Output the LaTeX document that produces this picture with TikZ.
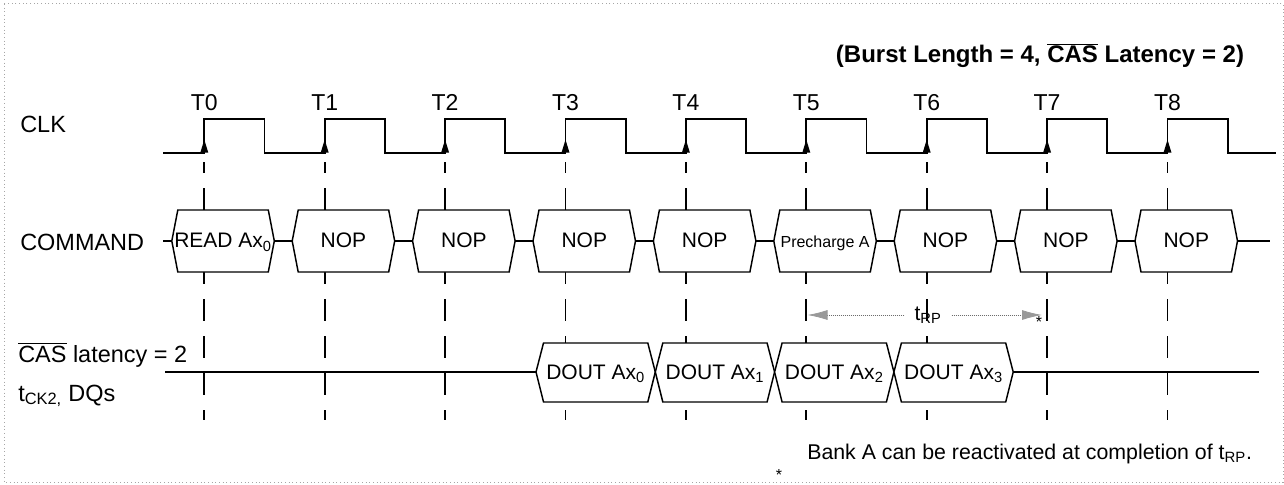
\documentclass[tikz,border=0pt]{standalone}
\usepackage{fontspec}
\setmainfont{Liberation Sans}
\usetikzlibrary{arrows.meta}
\newcommand\ovl[1]{$\overline{\hbox{#1}}$}
\begin{document}
\begin{tikzpicture}[x=0.75pt,y=-0.75pt,
  wave/.style={line width=1.3pt},
  tickline/.style={line width=1.4pt, dash pattern=on 16.5pt off 11.25pt, dash phase=8.25pt},
  sigline/.style={line width=1.1pt},
  hexbox/.style={line width=1.1pt, fill=white},
  lbl/.style={anchor=base west, inner sep=0pt, font=\fontsize{17.6}{20}\selectfont},
  tlbl/.style={anchor=base, inner sep=0pt, font=\fontsize{17.25}{20}\selectfont},
  boxtxt/.style={anchor=base, inner sep=0pt, font=\fontsize{15.75}{18}\selectfont},
  smalltxt/.style={anchor=base, inner sep=0pt, font=\fontsize{12}{14}\selectfont},
  trpline/.style={gray!85!black, line width=0.6pt, dash pattern=on 0.75pt off 0.75pt,
    -{Latex[length=15pt,width=7.5pt,fill=gray!80,color=gray!80]}},
]
\useasboundingbox (0,0) rectangle (1284,485);
\draw[gray!70, dotted, line width=0.75pt] (4,4) rectangle (1283,482);

% clock edge coordinates
\foreach \k in {0,...,8} {
  \coordinate (T\k) at ({204.3+120.4*\k},152.7);
}

% dashed timing lines
\foreach \k in {0,...,8} \draw[tickline] (T\k) ++(0,9.3) -- ++(0,258);

% clock waveform
\draw[wave] (163,152.7) \foreach \k in {0,...,8} { -- (T\k) -- ++(0,-33.4) -- ++(60.2,0) -- ++(0,33.4) } -- (1276,152.7);
\foreach \k in {0,...,8} \fill (T\k) ++(-4,0) -- ++(4,-13) -- ++(4,13) -- cycle;
\foreach \k in {0,...,8} \node[tlbl] (lblT\k) at ({204.3+120.4*\k},110) {T\k};

% command row
\draw[sigline] (163,241) -- (1270,241);
\foreach \k in {0,...,8} {
  \pgfmathsetmacro\L{204.3+120.4*\k-32.5}
  \pgfmathsetmacro\R{204.3+120.4*\k+70}
  \draw[hexbox] (\L,241) -- (\L+6,210) -- (\R-6,210) -- (\R,241) -- (\R-6,272) -- (\L+6,272) -- cycle;
}
\node[boxtxt] (cmd0) at (223.05,247.5) {READ Ax\textsubscript{0}};
\foreach \k in {1,2,3,4,6,7,8} \node[boxtxt] (cmd\k) at ({223.05+120.4*\k},247.5) {NOP};
\node[smalltxt] (cmd5) at (825.05,247.5) {Precharge A};

% data row
\draw[sigline] (165,372) -- (1259,372);
\foreach \j in {0,...,3} {
  \pgfmathsetmacro\A{536+119.3*\j}
  \pgfmathsetmacro\B{536+119.3*(\j+1)}
  \draw[hexbox] (\A,372) -- (\A+7.5,343) -- (\B-7.5,343) -- (\B,372) -- (\B-7.5,402) -- (\A+7.5,402) -- cycle;
  \node[boxtxt] (dq\j) at ({(\A+\B)/2},379) {DOUT Ax\textsubscript{\j}};
}

% tRP
\coordinate (trpL) at (807.5,315);
\coordinate (trpR) at (1042,315);
\node[boxtxt, inner xsep=7.5pt] (trp) at (928,320) {t\textsubscript{RP}};
\draw[trpline] (trp.west |- trpL) -- (trpL);
\draw[trpline] (trp.east |- trpR) -- (trpR);
\node[smalltxt] (star1) at (1039,327) {*};

% labels
\node[lbl] (clk) at (20,132) {CLK};
\node[lbl] (cmd) at (20,250.5) {COMMAND};
\node[lbl] (cas) at (18,362) {\ovl{CAS} latency = 2};
\node[lbl] (dqs) at (18,401) {t\textsubscript{CK2,} DQs};

\node[anchor=base, inner sep=0pt, font=\fontsize{18}{21}\selectfont\bfseries] (title) at (1040,63) {(Burst Length = 4, \ovl{CAS} Latency = 2)};
\node[anchor=base west, inner sep=0pt, font=\fontsize{16}{19}\selectfont] (note) at (807,459) {Bank A can be reactivated at completion of t\textsubscript{RP}.};
\node[smalltxt] (star2) at (779,480.5) {*};
\end{tikzpicture}
\end{document}
